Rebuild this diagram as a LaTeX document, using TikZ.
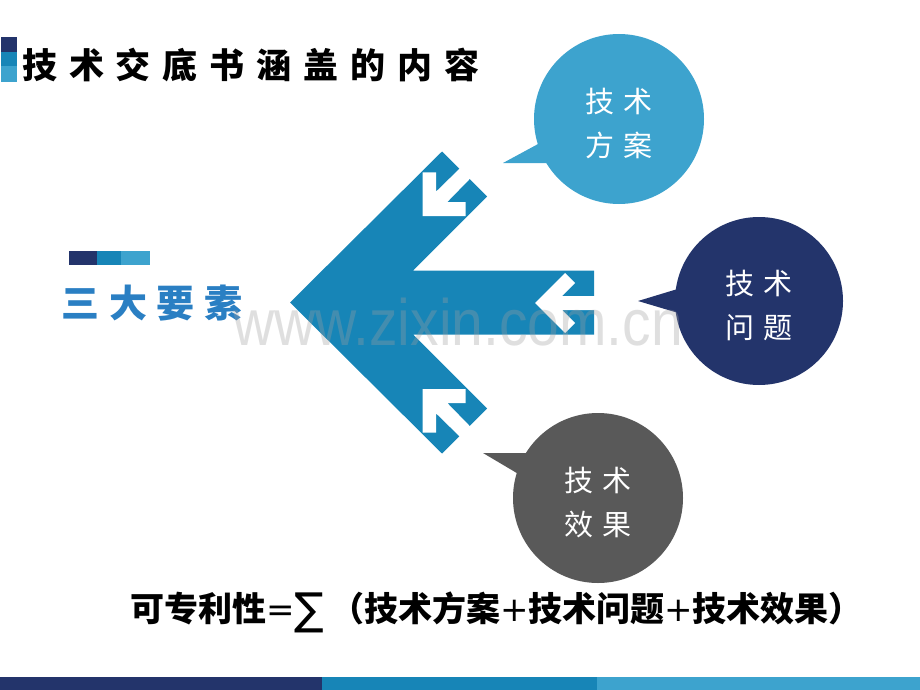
\documentclass[tikz,border=0pt]{standalone}
\usepackage{fontspec}
\newfontfamily\cjk{Noto Sans CJK SC}
\newfontfamily\cjktitle[LetterSpace=34]{Noto Sans CJK SC}
\newfontfamily\cjkkey[LetterSpace=26]{Noto Sans CJK SC}
\newfontfamily\cjkbubble[LetterSpace=30]{Noto Sans CJK SC}
\newfontfamily\symfont{DejaVu Sans}
\newfontfamily\wmfont{Liberation Sans}

\definecolor{navy}{RGB}{35,52,107}
\definecolor{midblue}{RGB}{23,133,183}
\definecolor{lightblue}{RGB}{61,163,206}
\definecolor{bubblegray}{RGB}{89,89,89}
\definecolor{keyblue}{RGB}{42,127,195}

\tikzset{
	bubble/.style={circle, minimum size=170pt, inner sep=0pt},
	bubbletext/.style={text=white, align=center, inner sep=0pt,
		font=\cjkbubble\fontsize{29}{44}\selectfont},
	notch/.style={fill=white},
}

\begin{document}
\begin{tikzpicture}[x=1pt, y=-1pt]
	\useasboundingbox (0,0) rectangle (920,690);

	% title with marker
	\fill[navy] (1,37) rectangle (17,52);
	\fill[midblue] (1,52) rectangle (17,66);
	\fill[lightblue] (1,66) rectangle (17,82);
	\node[anchor=west, inner sep=0pt, font=\cjktitle\bfseries\fontsize{35}{40}\selectfont] (title) at (22,65) {技术交底书涵盖的内容};

	% key label with bars
	\fill[navy] (69,251) rectangle (97,265);
	\fill[midblue] (97,251) rectangle (121,265);
	\fill[lightblue] (121,251) rectangle (150,265);
	\node[anchor=west, inner sep=0pt, text=keyblue, font=\cjkkey\bfseries\fontsize{38}{42}\selectfont] (key) at (61,303) {三大要素};

	% big arrow
	\fill[midblue] (290,302.5) -- (442,151.5) -- (487,196.5) -- (413,270.5) -- (594,270.5)
		-- (594,334.5) -- (413,334.5) -- (487,408.5) -- (442,453.5) -- cycle;

	% white arrows cut into the big arrow
	\fill[notch] (422.7,172.3) -- (436,172.3) -- (436,191.7) -- (464,164.3) -- (474.3,174.3)
		-- (447.3,202) -- (465.7,202) -- (465.7,216) -- (422.7,216) -- cycle;
	\fill[notch] (535,303) -- (565,273) -- (575,283) -- (562,296) -- (600,296)
		-- (600,310) -- (562,310) -- (575,323) -- (565,333) -- cycle;
	\fill[notch] (422.7,432.7) -- (436,432.7) -- (436,413.3) -- (464,440.7) -- (474.3,430.7)
		-- (447.3,403) -- (465.7,403) -- (465.7,389) -- (422.7,389) -- cycle;

	% speech bubbles
	\coordinate (plantip) at (503,163);
	\fill[lightblue] (plantip) -- (551,137) -- (560,163) -- cycle;
	\node[bubble, fill=lightblue] (plan) at (619,119) {};
	\node[bubbletext] (plantext) at ([yshift=-5pt]plan.center) {技术\\方案};

	\coordinate (problemtip) at (638,301);
	\fill[navy] (problemtip) -- (694,284) -- (695,318) -- cycle;
	\node[bubble, fill=navy, minimum size=168pt] (problem) at (759,301) {};
	\node[bubbletext] (problemtext) at ([yshift=-4pt]problem.center) {技术\\问题};

	\coordinate (effecttip) at (483,453);
	\fill[bubblegray] (effecttip) -- (560,453) -- (537,485) -- cycle;
	\node[bubble, fill=bubblegray] (effect) at (598,498) {};
	\node[bubbletext] (effecttext) at ([yshift=-5pt]effect.center) {技术\\效果};

	% formula
	\node[anchor=west, inner sep=0pt, font=\cjk\bfseries\fontsize{34}{38}\selectfont] (formula) at (130,612)
		{可专利性{\symfont\mdseries=\raisebox{-3pt}{\fontsize{44}{44}\selectfont∑}\,}（技术方案{\symfont\mdseries+}技术问题{\symfont\mdseries+}技术效果）};

	% bottom bar
	\fill[navy] (0,677) rectangle (322,690);
	\fill[midblue] (322,677) rectangle (597,690);
	\fill[lightblue] (597,677) rectangle (920,690);

	% watermark
	\node[anchor=base west, inner sep=0pt, text=gray!75, opacity=0.33, font=\wmfont\fontsize{57}{60}\selectfont] (mark) at (233,345)
		{\scalebox{1}[1.15]{www.zixin.com.cn}};
\end{tikzpicture}
\end{document}
